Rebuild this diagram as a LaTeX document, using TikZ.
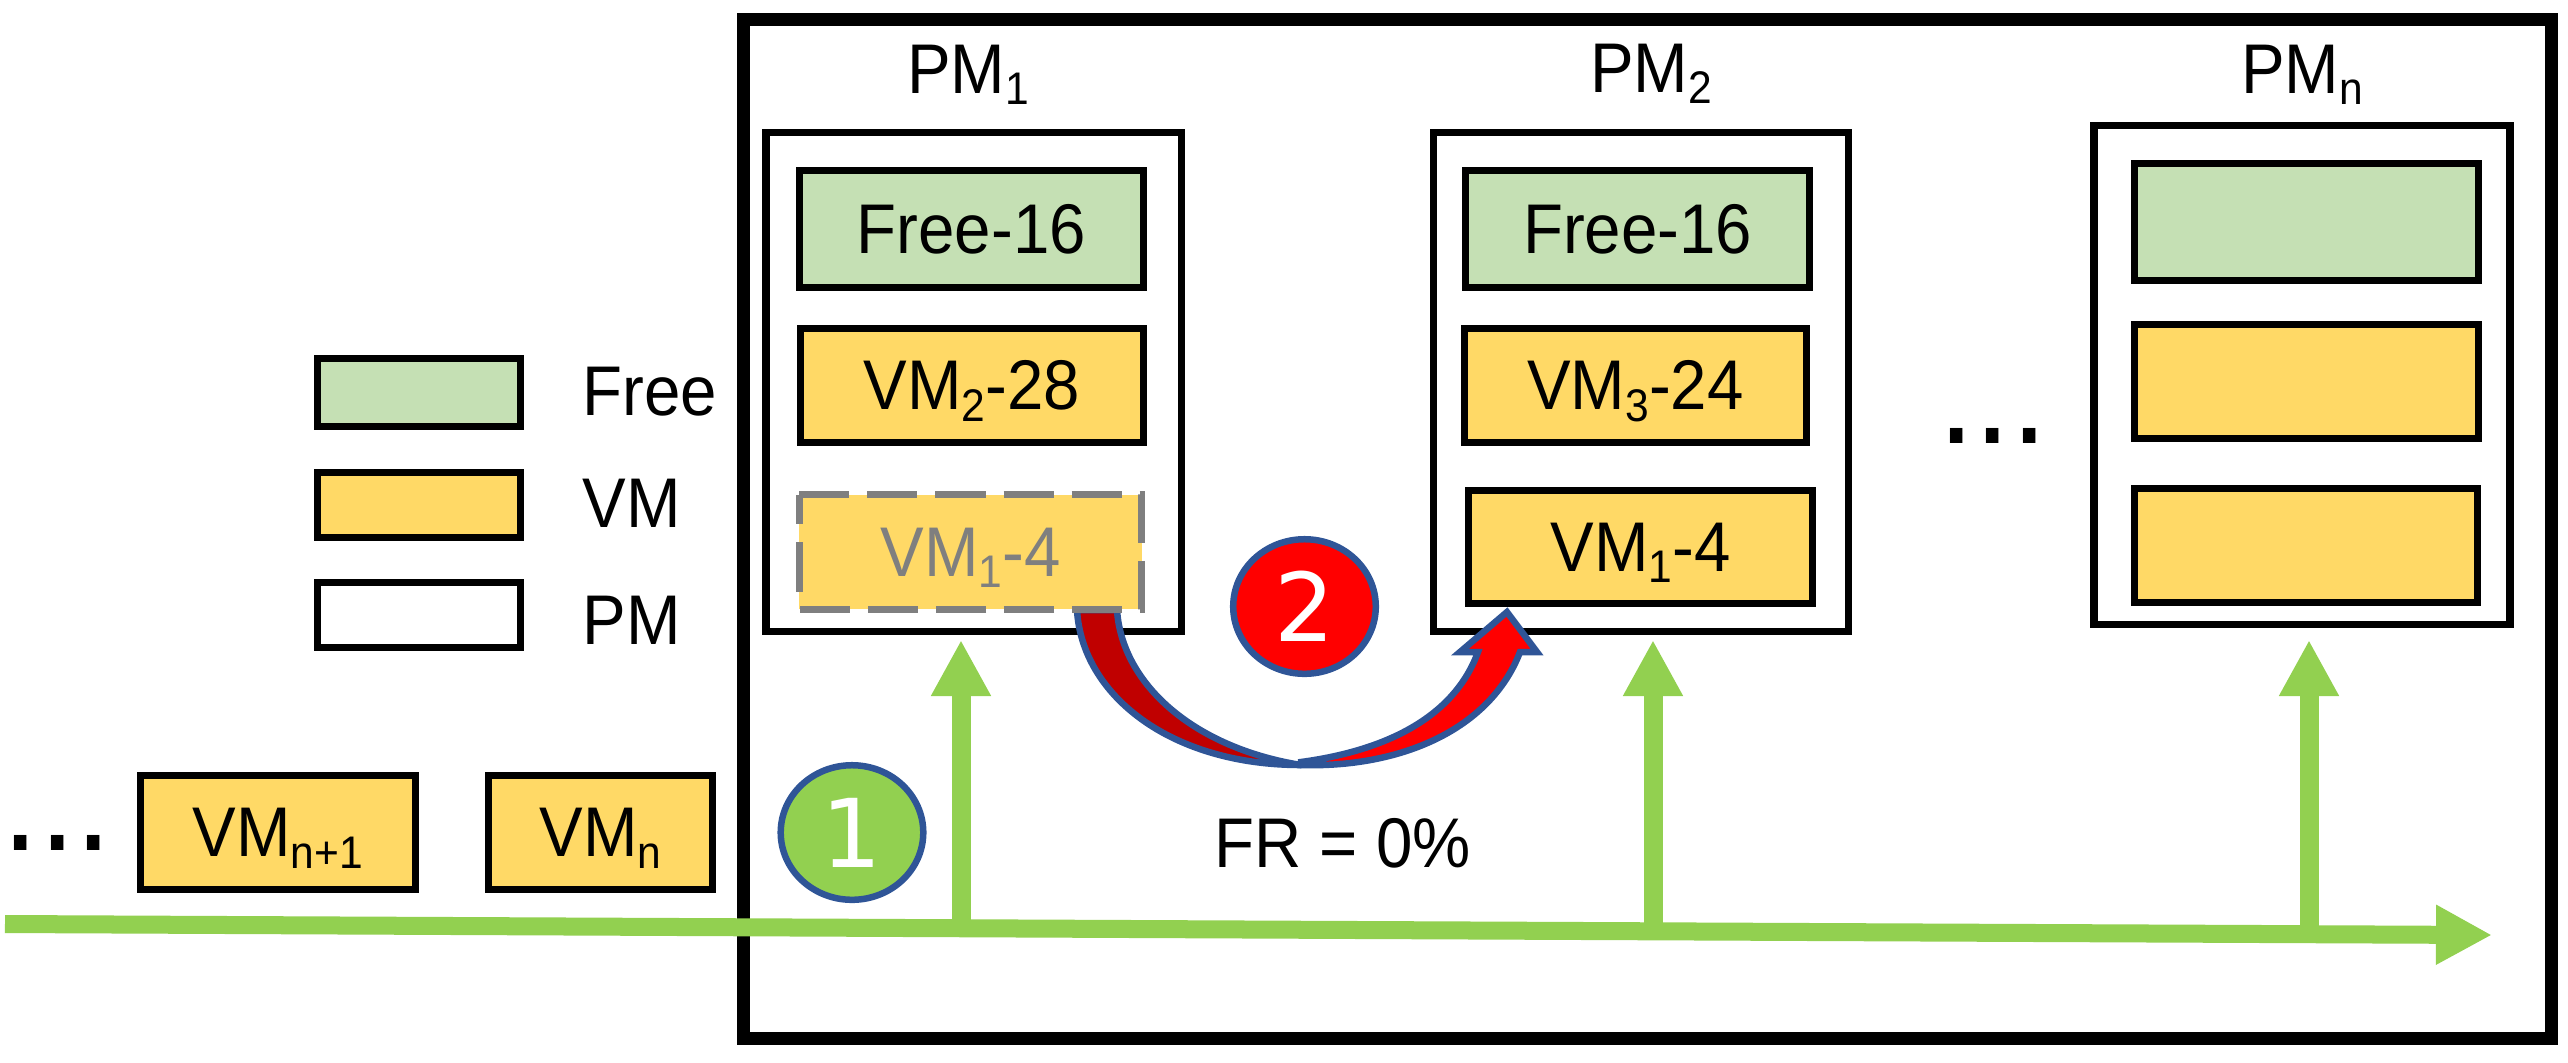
\documentclass[tikz,border=0pt]{standalone}
\usepackage{fontspec}
\setmainfont[FakeStretch=0.93]{Liberation Sans}
\newfontfamily\digitfont{DejaVu Sans}
\usetikzlibrary{arrows.meta,shapes.geometric}
\definecolor{vmyellow}{HTML}{FFD966}
\definecolor{freegreen}{HTML}{C5E0B4}
\definecolor{flowgreen}{HTML}{92D050}
\definecolor{ringblue}{HTML}{2F5597}
\definecolor{ghostgray}{HTML}{7F7F7F}
\definecolor{darkred}{HTML}{C00000}
\newcommand{\lowidx}[1]{\raisebox{-3.4pt}{\fontsize{13}{15}\selectfont #1}}
\tikzset{
  cell/.style={draw=black,line width=0.07cm,rectangle,inner sep=0,outer sep=0,text height=0.48cm,text depth=0},
  freebox/.style={cell,fill=freegreen},
  vmbox/.style={cell,fill=vmyellow},
  pmbox/.style={cell,fill=white,line width=0.075cm},
  ghostbox/.style={cell,draw=none,fill=vmyellow,text=ghostgray},
  ghostline/.style={draw=ghostgray,line width=0.07cm,dash pattern=on 0.5cm off 0.18cm},
  curl/.style={draw=ringblue,line width=0.065cm},
  flow/.style={draw=flowgreen,line width=0.19cm,-{Triangle[length=0.56cm,width=0.56cm]}},
  badge/.style={ellipse,draw=ringblue,line width=0.065cm,inner sep=0,minimum width=1.425cm,minimum height=1.345cm,text=white,font=\digitfont\fontsize{27}{30}\selectfont},
  dots/.style={anchor=base,inner sep=0,font=\fontsize{40}{42}\selectfont}
}
\begin{document}
\begin{tikzpicture}[x=0.01cm,y=-0.01cm,font=\fontsize{20}{24}\selectfont]
\useasboundingbox (0,0) rectangle (2568,1062);

%frame
\node[draw=black,line width=0.13cm,minimum width=18.06cm,minimum height=10.19cm,inner sep=0,outer sep=0] (frame) at (1647.5,529) {};

%machines
\node[pmbox,minimum width=4.155cm,minimum height=4.99cm] (pm1) at (973.75,382) {};
\node[pmbox,minimum width=4.15cm,minimum height=4.99cm] (pm2) at (1641,382) {};
\node[pmbox,minimum width=4.155cm,minimum height=4.99cm] (pmn) at (2302,375) {};
\node[anchor=base,inner sep=0] (pm1label) at (968,93) {PM\lowidx{1}};
\node[anchor=base,inner sep=0] (pm2label) at (1651,92) {PM\lowidx{2}};
\node[anchor=base,inner sep=0] (pmnlabel) at (2302,93) {PM\lowidx{n}};

%move
\draw[curl,fill=darkred,line join=round] (1077,610) .. controls (1082,695) and (1170,765) .. (1301,765) .. controls (1195,748) and (1122,685) .. (1117,610) -- cycle;
\draw[curl,fill=red,line join=miter] (1301,765) .. controls (1400,768) and (1490,730) .. (1520,652) -- (1537,652) -- (1507,612) -- (1460,652) -- (1478,652) .. controls (1455,715) and (1390,750) .. (1301,762) -- cycle;

%first machine
\node[freebox,minimum width=3.435cm,minimum height=1.17cm] (free1) at (971.25,229) {Free-16};
\node[vmbox,minimum width=3.42cm,minimum height=1.14cm] (vm2) at (972,385.5) {VM\lowidx{2}-28};
\node[ghostbox,minimum width=3.42cm,minimum height=1.145cm] (ghost) at (970.5,552) {VM\lowidx{1}-4};
\draw[ghostline] (ghost.north west) -- (ghost.north east) -- (ghost.south east) -- (ghost.south west) -- cycle;

%second machine
\node[freebox,minimum width=3.435cm,minimum height=1.17cm] (free2) at (1637.75,229) {Free-16};
\node[vmbox,minimum width=3.42cm,minimum height=1.14cm] (vm3) at (1635.5,385.5) {VM\lowidx{3}-24};
\node[vmbox,minimum width=3.44cm,minimum height=1.13cm] (vm1) at (1640.5,547) {VM\lowidx{1}-4};

%last machine
\node[freebox,minimum width=3.435cm,minimum height=1.17cm] (freen) at (2306.75,222) {};
\node[vmbox,minimum width=3.435cm,minimum height=1.14cm] (vmna) at (2306.75,381.5) {};
\node[vmbox,minimum width=3.42cm,minimum height=1.135cm] (vmnb) at (2306,545.25) {};
\node[dots] (gap) at (1993,443) {...};

%legend
\node[freebox,minimum width=2.03cm,minimum height=0.68cm] (keyfree) at (419,392.5) {};
\node[vmbox,minimum width=2.03cm,minimum height=0.65cm] (keyvm) at (419,505) {};
\node[cell,fill=white,minimum width=2.03cm,minimum height=0.65cm] (keypm) at (419,615) {};
\node[anchor=base west,inner sep=0] (freetext) at (582,415) {Free};
\node[anchor=base west,inner sep=0] (vmtext) at (582,527) {VM};
\node[anchor=base west,inner sep=0] (pmtext) at (582,644) {PM};

%queue
\node[dots] (more) at (57.5,850) {...};
\node[vmbox,minimum width=2.745cm,minimum height=1.135cm] (vmnext) at (278,832.25) {VM\lowidx{n+1}};
\node[vmbox,minimum width=2.24cm,minimum height=1.135cm] (vmn) at (600.5,832.25) {VM\lowidx{n}};

%flow
\coordinate (start) at (5,924);
\coordinate (end) at (2492,935);
\coordinate (tick1) at (961,928);
\coordinate (tick2) at (1653,931);
\coordinate (tick3) at (2309,934);
\coordinate (up1) at (961,640);
\coordinate (up2) at (1653,640);
\coordinate (up3) at (2309,640);
\draw[flow,line width=0.18cm] (start) -- (end);
\draw[flow] (tick1) -- (up1);
\draw[flow] (tick2) -- (up2);
\draw[flow] (tick3) -- (up3);

%steps
\node[badge,fill=flowgreen] (one) at (852,832.5) {1};
\node[badge,fill=red] (two) at (1304.5,606.5) {2};
\node[anchor=base,inner sep=0] (ratio) at (1342.5,867) {FR = 0\%};
\end{tikzpicture}
\end{document}
